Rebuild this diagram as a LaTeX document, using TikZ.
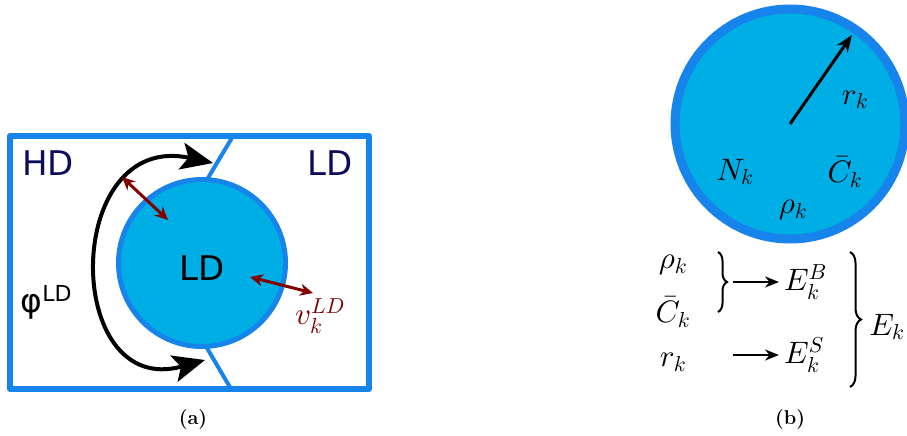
\documentclass[tikz,border=0pt]{standalone}
\usepackage{fontspec}
\DeclareFontShape{OML}{cmm}{m}{it}{<->cmmi10}{}
\DeclareFontShape{OML}{cmm}{b}{it}{<->cmmib10}{}
\DeclareFontShape{OMS}{cmsy}{m}{n}{<->cmsy10}{}
\DeclareFontShape{OT1}{cmr}{m}{n}{<->cmr10}{}
\DeclareFontShape{OT1}{cmr}{bx}{n}{<->cmbx10}{}
\DeclareFontShape{OMX}{cmex}{m}{n}{<->cmex10}{}
\newfontfamily\dejavu{DejaVu Sans}
\usetikzlibrary{arrows.meta,decorations.pathreplacing}
\definecolor{boxblue}{RGB}{22,132,234}
\definecolor{fillblue}{RGB}{0,174,230}
\definecolor{darkred}{RGB}{128,0,0}
\definecolor{navy}{RGB}{12,12,92}
\tikzset{
  bluedraw/.style={draw=boxblue},
  sanslabel/.style={inner sep=0, font=\dejavu\fontsize{34}{38}\selectfont},
  mathlabel/.style={inner sep=0, font=\fontsize{31}{35}\selectfont},
  redarrow/.style={darkred, line width=3, {Stealth[length=13,width=12]}-{Stealth[length=13,width=12]}},
  blackarrow/.style={line width=2.5, -{Stealth[length=14,width=11]}, shorten >=5},
  bracestyle/.style={line width=2, decorate, decoration={brace, amplitude=9}},
  caption/.style={inner sep=0, font=\fontsize{20}{24}\selectfont\bfseries}
}
\begin{document}
\begin{tikzpicture}[x=1pt,y=-1pt]
\useasboundingbox (0,0) rectangle (907,436);

% ---------- (a) ----------
\draw[bluedraw, line width=6, line join=round] (10,136) rectangle (369,389);
\coordinate (t1) at (233,136); \coordinate (t2) at (208,178);
\coordinate (b1) at (207,348); \coordinate (b2) at (231,389);
\draw[bluedraw, line width=4] (t1) -- (t2);
\draw[bluedraw, line width=4] (b1) -- (b2);
\node[circle, bluedraw, fill=fillblue, line width=5, minimum size=167, inner sep=0] (ld) at (202,263) {};

\coordinate (arcA) at (213,163); \coordinate (arcB) at (205,360);
\draw[line width=4, {Stealth[length=32,width=27,inset=7]}-{Stealth[length=32,width=27,inset=7]}]
  (arcA) .. controls (62,130) and (62,400) .. (arcB);

\coordinate (r1a) at (122,177); \coordinate (r1b) at (168,220);
\coordinate (r2a) at (250,277); \coordinate (r2b) at (313,293);
\draw[redarrow] (r1a) -- (r1b);
\draw[redarrow] (r2a) -- (r2b);

\node[sanslabel, text=navy] (hd) at (48,163) {HD};
\node[sanslabel, text=navy] (ldr) at (330,163) {LD};
\node[sanslabel] (ldc) at (202,268) {LD};
\node[inner sep=0, font=\dejavu\fontsize{33}{36}\selectfont] (phi) at (46,302) {φ\raisebox{11pt}{\fontsize{22}{24}\selectfont LD}};
\node[mathlabel, text=darkred] (v) at (320,316) {$v_k^{LD}$};

\node[caption] (capa) at (193,420) {(a)};

% ---------- (b) ----------
\node[circle, bluedraw, fill=fillblue, line width=9, minimum size=230, inner sep=0] (cell) at (790,124) {};
\coordinate (rtip) at (852,35);
\draw[line width=3, -{Stealth[length=17,width=13]}] (cell.center) -- (rtip);
\node[mathlabel] (rk) at (855,100) {$r_k$};
\node[mathlabel] (nk) at (735,172) {$N_k$};
\node[mathlabel] (ck) at (845,172) {$\bar C_k$};
\node[mathlabel] (rhok) at (793,210) {$\rho_k$};

\node[mathlabel] (rho2) at (673,265) {$\rho_k$};
\node[mathlabel] (c2) at (673,312) {$\bar C_k$};
\node[mathlabel] (r2) at (673,362) {$r_k$};

\coordinate (sb1) at (718,252); \coordinate (sb2) at (718,312);
\draw[bracestyle] (sb1) -- (sb2);
\coordinate (a1s) at (733,282);
\coordinate (a2s) at (733,355);
\node[mathlabel, anchor=west] (eb) at (784,282) {$E_k^B$};
\node[mathlabel, anchor=west] (es) at (784,355) {$E_k^S$};
\draw[blackarrow] (a1s) -- (eb.west);
\draw[blackarrow] (a2s) -- (es.west);

\coordinate (bb1) at (850,252); \coordinate (bb2) at (850,387);
\draw[bracestyle, decoration={amplitude=11}] (bb1) -- (bb2);
\node[mathlabel] (ek) at (887,327) {$E_k$};

\node[caption] (capb) at (790,420) {(b)};
\end{tikzpicture}
\end{document}
